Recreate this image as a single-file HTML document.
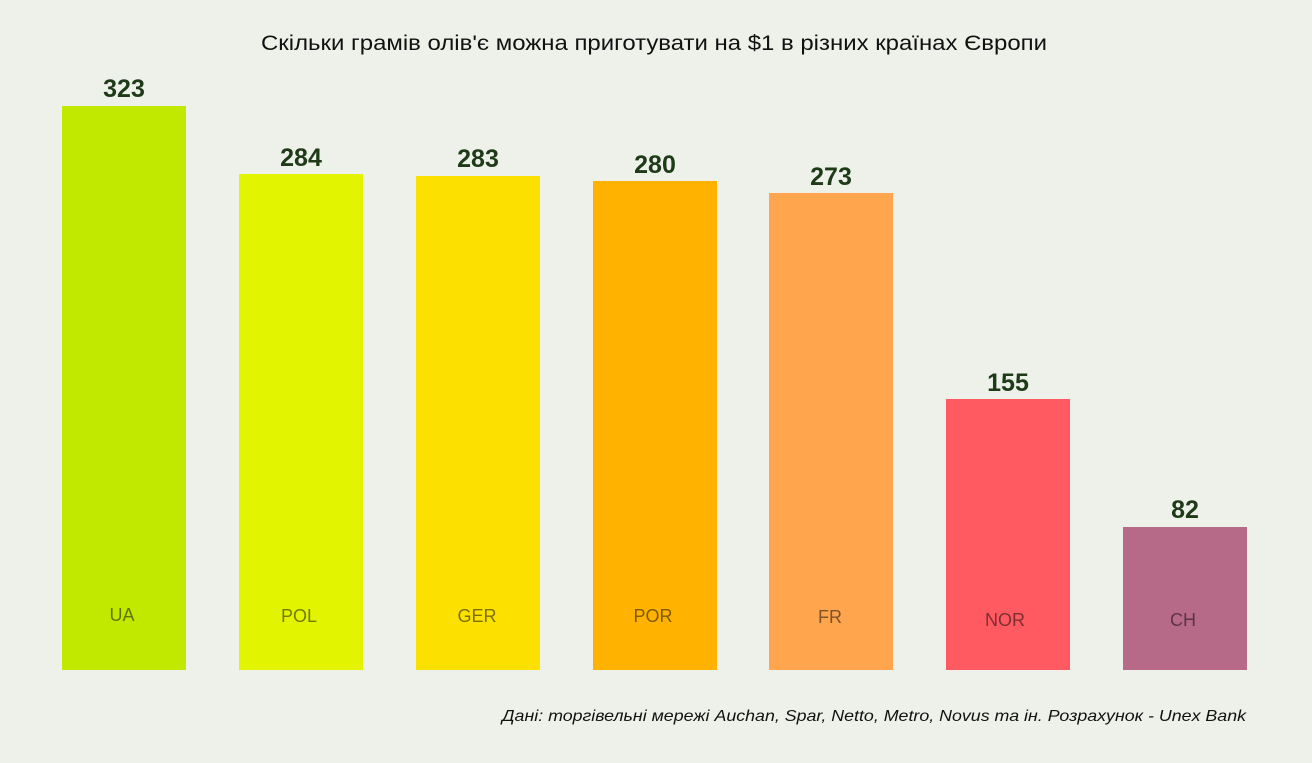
<!DOCTYPE html>
<html><head><meta charset="utf-8"><style>
html,body{margin:0;padding:0;background:#eef1ea;}
svg{display:block;}
</style></head><body>
<svg width="1312" height="763" xmlns="http://www.w3.org/2000/svg">
<rect width="1312" height="763" fill="#eef1ea"/>
<text x="261" y="50" font-family="Liberation Sans, sans-serif" font-size="21" fill="#111" textLength="786" lengthAdjust="spacingAndGlyphs">Скільки грамів олів'є можна приготувати на $1 в різних країнах Європи</text>
<g>
<rect x="62" y="106" width="124" height="564" fill="#c1e900"/>
<rect x="239" y="174" width="124" height="496" fill="#e3f400"/>
<rect x="416" y="176" width="124" height="494" fill="#fbe000"/>
<rect x="593" y="181" width="124" height="489" fill="#ffb200"/>
<rect x="769" y="193" width="124" height="477" fill="#ffa54e"/>
<rect x="946" y="399" width="124" height="271" fill="#ff5a61"/>
<rect x="1123" y="527" width="124" height="143" fill="#b66a88"/>
</g>
<g font-family="Liberation Sans, sans-serif" font-size="25" font-weight="bold" fill="#1e3a17" text-anchor="middle">
<text x="124" y="97">323</text>
<text x="301" y="166">284</text>
<text x="478" y="167">283</text>
<text x="655" y="173">280</text>
<text x="831" y="185">273</text>
<text x="1008" y="391">155</text>
<text x="1185" y="518">82</text>
</g>
<g font-family="Liberation Sans, sans-serif" font-size="18" fill="#000" fill-opacity="0.5" text-anchor="middle">
<text x="122" y="621">UA</text>
<text x="299" y="622">POL</text>
<text x="477" y="622">GER</text>
<text x="653" y="622">POR</text>
<text x="830" y="623">FR</text>
<text x="1005" y="626">NOR</text>
<text x="1183" y="626">CH</text>
</g>
<text x="1246" y="721" text-anchor="end" font-family="Liberation Sans, sans-serif" font-size="16" font-style="italic" fill="#111" textLength="744" lengthAdjust="spacingAndGlyphs">Дані: торгівельні мережі Auchan, Spar, Netto, Metro, Novus та ін. Розрахунок - Unex Bank</text>
</svg>
</body></html>
